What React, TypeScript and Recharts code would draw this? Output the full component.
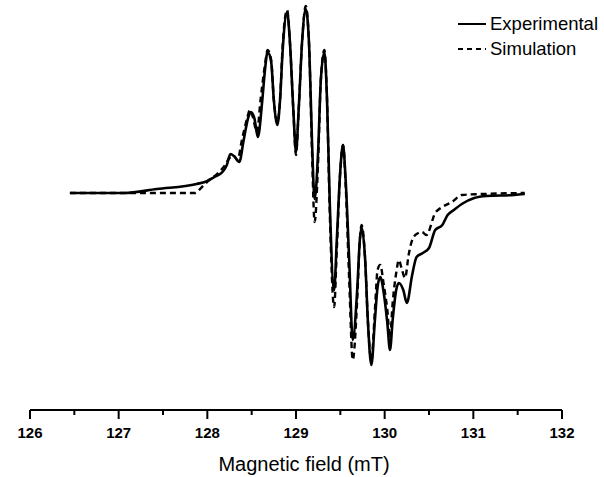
import { LineChart, Line, XAxis, YAxis, Legend } from 'recharts';

// field positions (mT) and intensities (a.u.)
const expField = [
  126.45, 127.06, 127.43, 127.88, 128.0, 128.08, 128.17, 128.22, 128.26, 128.3, 128.36, 128.41, 128.46, 128.49,
  128.53, 128.57, 128.62, 128.65, 128.68, 128.72, 128.75, 128.79, 128.82, 128.85, 128.9, 128.93, 128.97, 129.0,
  129.03, 129.07, 129.11, 129.15, 129.18, 129.21, 129.25, 129.28, 129.32, 129.35, 129.38, 129.43, 129.46, 129.5,
  129.53, 129.56, 129.6, 129.64, 129.69, 129.72, 129.74, 129.78, 129.81, 129.85, 129.89, 129.92, 129.95, 129.99,
  130.03, 130.06, 130.09, 130.13, 130.16, 130.21, 130.25, 130.31, 130.36, 130.43, 130.5, 130.57, 130.65, 130.71,
  130.78, 130.87, 131.01, 131.15, 131.46, 131.58,
];
const expIntensity = [
  0, 0, 4, 9, 12, 16, 21, 28, 39, 37, 31, 53, 75, 81,
  75, 56, 93, 123, 141, 131, 93, 68, 93, 143, 181, 153, 83, 41,
  83, 153, 184, 143, 53, -6, 43, 113, 141, 93, -7, -97, -47, 23,
  48, 13, -67, -147, -97, -47, -34, -67, -127, -172, -127, -94, -84, -100,
  -130, -157, -127, -97, -90, -97, -110, -82, -64, -60, -55, -37, -32, -22,
  -17, -11, -5, -3, -2, -1,
];

const simField = [
  126.45, 127.86, 127.94, 128.02, 128.11, 128.2, 128.25, 128.3, 128.34, 128.39, 128.45, 128.48, 128.51, 128.56,
  128.6, 128.65, 128.68, 128.72, 128.75, 128.79, 128.82, 128.85, 128.9, 128.93, 128.97, 129.0, 129.03, 129.07,
  129.11, 129.15, 129.18, 129.21, 129.25, 129.28, 129.32, 129.35, 129.38, 129.43, 129.46, 129.5, 129.53, 129.56,
  129.6, 129.64, 129.69, 129.72, 129.74, 129.78, 129.81, 129.85, 129.89, 129.92, 129.95, 129.99, 130.03, 130.06,
  130.09, 130.13, 130.16, 130.19, 130.23, 130.27, 130.32, 130.38, 130.42, 130.47, 130.57, 130.65, 130.76, 130.87,
  131.1, 131.58,
];
const simIntensity = [
  0, 0, 6, 13, 19, 28, 35, 37, 33, 53, 75, 83, 77, 61,
  93, 128, 143, 133, 93, 71, 93, 148, 183, 153, 83, 38, 83, 153,
  187, 143, 43, -29, 33, 113, 143, 93, -17, -114, -57, 23, 48, 8,
  -87, -167, -107, -47, -32, -67, -127, -167, -117, -77, -72, -92, -117, -145,
  -110, -80, -67, -75, -85, -62, -45, -40, -39, -42, -20, -14, -9, -2,
  -1, 0,
];

const xTicks = [126, 126.5, 127, 127.5, 128, 128.5, 129, 129.5, 130, 130.5, 131, 131.5, 132];

const experimental = expField.map((field, i) => ({ field, value: expIntensity[i] }));
const simulation = simField.map((field, i) => ({ field, value: simIntensity[i] }));

const FONT = 'Arial, "Liberation Sans", Helvetica, sans-serif';

function FieldTick({ x, y, payload }: any) {
  const major = Number.isInteger(payload.value);
  return (
    <g>
      <line x1={x} x2={x} y1={y} y2={y + (major ? 9 : 5)} stroke="#000" strokeWidth={2} />
      {major && (
        <text x={x} y={y + 28} textAnchor="middle" fontFamily={FONT} fontSize={15} fontWeight="bold" fill="#000">
          {payload.value}
        </text>
      )}
    </g>
  );
}

function SpectrumLegend() {
  const items = [
    { label: 'Experimental', dash: undefined },
    { label: 'Simulation', dash: '5 4' },
  ];
  return (
    <div style={{ fontFamily: FONT, fontSize: 18.5, color: '#000', lineHeight: '25px' }}>
      {items.map((it) => (
        <div key={it.label} style={{ display: 'flex', alignItems: 'center' }}>
          <svg width={30} height={10} style={{ marginRight: 4 }}>
            <line x1={2} x2={30} y1={5} y2={5} stroke="#000" strokeWidth={2} strokeDasharray={it.dash} />
          </svg>
          <span>{it.label}</span>
        </div>
      ))}
    </div>
  );
}

export default function App() {
  return (
    <div style={{ position: 'absolute', left: 0, top: 0, background: '#fff' }}>
      <LineChart width={604} height={477} margin={{ top: 0, right: 42, left: 30, bottom: 0 }}>
        <XAxis
          dataKey="field"
          type="number"
          domain={[126, 132]}
          ticks={xTicks}
          interval={0}
          height={67}
          tickSize={0}
          tickMargin={0}
          tick={<FieldTick />}
          axisLine={{ stroke: '#000', strokeWidth: 2 }}
          allowDuplicatedCategory={false}
          label={{
            value: 'Magnetic field (mT)',
            position: 'insideBottom',
            offset: 6,
            dx: 8,
            style: { fontFamily: FONT, fontSize: 20, fill: '#000' },
          }}
        />
        <YAxis hide type="number" domain={[-217, 193]} allowDataOverflow />
        <Legend
          verticalAlign="middle"
          align="center"
          layout="vertical"
          content={<SpectrumLegend />}
          wrapperStyle={{ position: 'absolute', top: 11, right: 6, left: 'auto', width: 'auto' }}
        />
        <Line
          data={experimental}
          dataKey="value"
          type="monotone"
          stroke="#000"
          strokeWidth={2.6}
          dot={false}
          isAnimationActive={false}
          name="Experimental"
        />
        <Line
          data={simulation}
          dataKey="value"
          type="monotone"
          stroke="#000"
          strokeWidth={2.4}
          strokeDasharray="6 4"
          dot={false}
          isAnimationActive={false}
          name="Simulation"
        />
      </LineChart>
    </div>
  );
}
